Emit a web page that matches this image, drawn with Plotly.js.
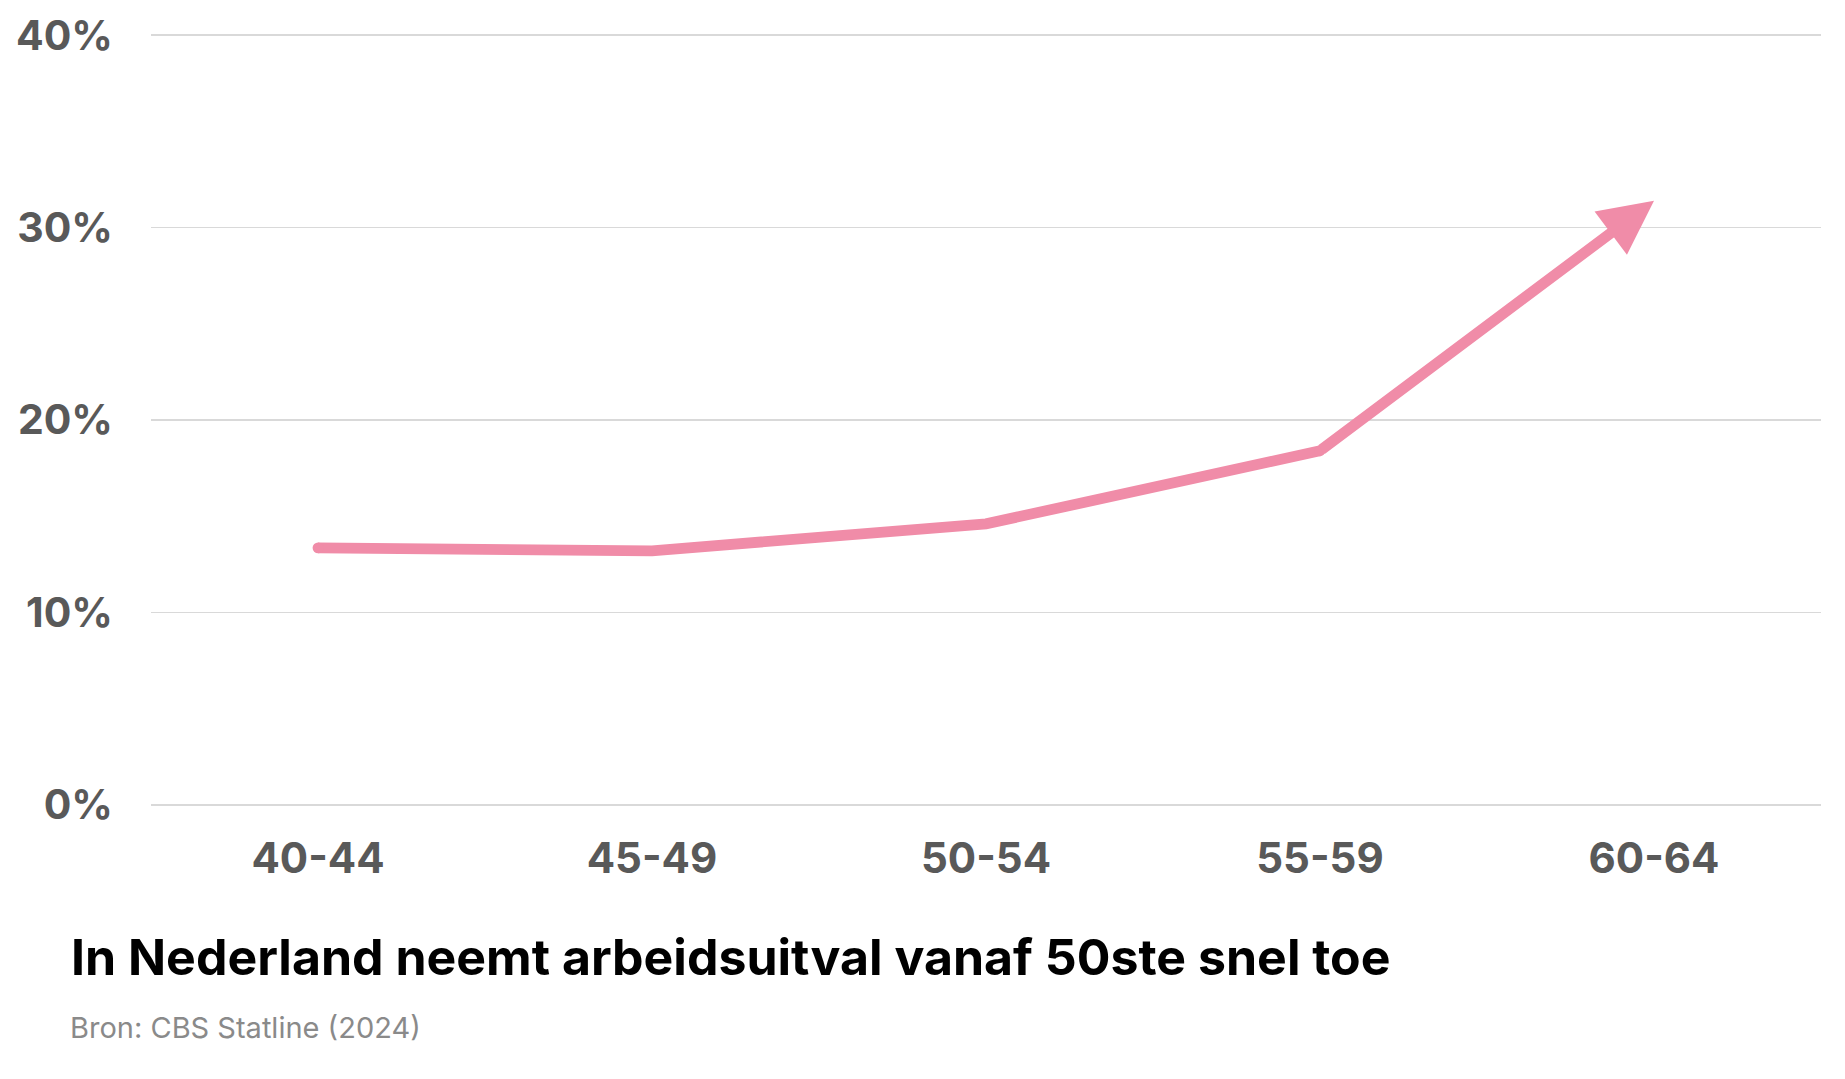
<!DOCTYPE html>
<html>
<head>
<meta charset="utf-8">
<script src="https://cdn.plot.ly/plotly-3.0.1.min.js"></script>
<style>html,body{margin:0;padding:0;background:#fff;}#chart{width:1845px;height:1079px;}</style>
</head>
<body>
<div id="chart"></div>
<script>
const ageGroups = ['40-44', '45-49', '50-54', '55-59', '60-64'];
const dropoutPct = [13.35, 13.2, 14.6, 18.4, 31.4];
const yTickVals = [0, 10, 20, 30, 40];
const yTickText = ['0%', '10%', '20%', '30%', '40%'];
const titleText = 'In Nederland neemt arbeidsuitval vanaf 50ste snel toe';
const sourceText = 'Bron: CBS Statline (2024)';

const pink = '#f08ca8';
const lineW = 10.8;
const last = dropoutPct.length - 1;

// line through all points up to the second-last; the final segment is drawn as an arrow
const xLine = ageGroups.slice(0, last);
const yLine = dropoutPct.slice(0, last);
// round cap at the start and a filled joint where the arrow segment begins
const capSizes = xLine.map((v, i) => (i === 0 || i === xLine.length - 1) ? lineW : 0);

const trace = {
  x: xLine,
  y: yLine,
  type: 'scatter',
  mode: 'lines+markers',
  line: {color: pink, width: lineW},
  marker: {symbol: 'circle', size: capSizes, color: pink, opacity: 1, line: {width: 0}},
  hoverinfo: 'skip',
  cliponaxis: false
};

const layout = {
  width: 1845,
  height: 1079,
  margin: {l: 151, r: 24, t: 16, b: 255, autoexpand: false},
  paper_bgcolor: '#ffffff',
  plot_bgcolor: '#ffffff',
  showlegend: false,
  xaxis: {
    type: 'category',
    categoryorder: 'array',
    categoryarray: ageGroups,
    tickvals: ageGroups,
    ticktext: ageGroups,
    range: [-0.5, 4.5],
    showgrid: false,
    zeroline: false,
    showline: false,
    ticks: '',
    ticklabelstandoff: 6,
    tickfont: {family: 'Inter', size: 42, color: '#595959', weight: 700}
  },
  yaxis: {
    range: [-1, 41],
    tickvals: yTickVals,
    ticktext: yTickText,
    showgrid: true,
    gridcolor: '#d9d9d9',
    gridwidth: 1.5,
    zeroline: false,
    showline: false,
    ticks: '',
    ticklabelstandoff: 37,
    tickfont: {family: 'Inter', size: 41, color: '#595959', weight: 700}
  },
  title: {
    text: titleText,
    font: {family: 'Inter', size: 50, color: '#000000', weight: 700},
    xref: 'container', yref: 'container',
    x: 71 / 1845, xanchor: 'left',
    y: 1 - 957 / 1079, yanchor: 'middle'
  },
  annotations: [{
    text: '',
    xref: 'x', yref: 'y',
    x: ageGroups[last], y: dropoutPct[last],
    axref: 'x', ayref: 'y',
    ax: ageGroups[last - 1], ay: dropoutPct[last - 1],
    showarrow: true,
    arrowhead: 2,
    arrowsize: 1,
    arrowwidth: lineW,
    arrowcolor: pink,
    standoff: 0
  }, {
    text: sourceText,
    xref: 'paper', yref: 'paper',
    x: (68 - 151) / 1670, xanchor: 'left',
    y: -(1027 - 824) / 808, yanchor: 'middle',
    showarrow: false,
    font: {family: 'Inter', size: 29, color: '#8a8a8a'}
  }]
};

Plotly.newPlot('chart', [trace], layout, {displayModeBar: false, staticPlot: true});
</script>
</body>
</html>
